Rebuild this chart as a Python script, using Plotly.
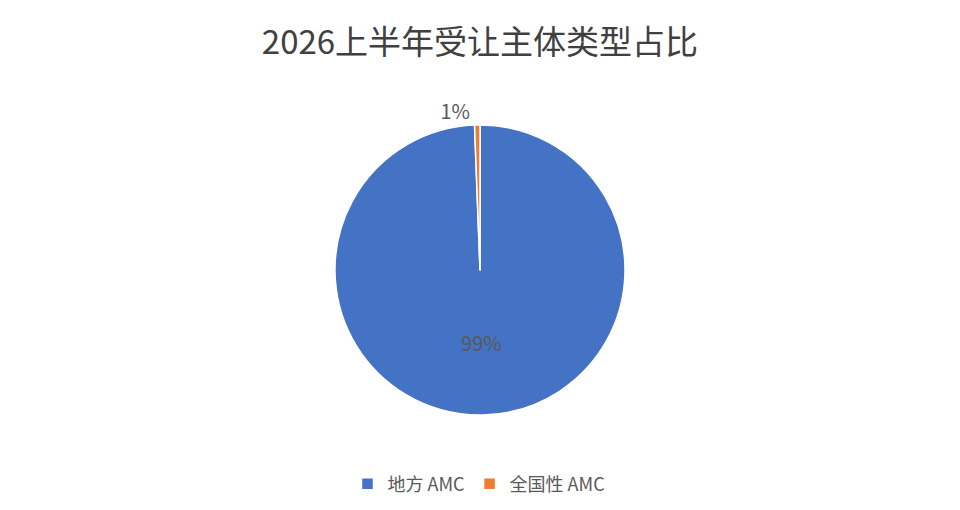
import plotly.graph_objects as go

# 数据
labels = ['地方 AMC', '全国性 AMC']
values = [99.4, 0.6]
colors = ['#4472C4', '#ED7D31']

W, H = 960, 510
OFF = 8  # 页面 body 的默认边距


def px_x(x):
    return (x - OFF) / W


def px_y(y):
    return 1 - (y - OFF) / H


fig = go.Figure()
fig.add_trace(go.Pie(
    labels=labels, values=values, sort=False,
    direction='clockwise', rotation=0,
    marker=dict(colors=colors, line=dict(color='white', width=1.5)),
    texttemplate='%{percent:.0%}',
    textposition=['inside', 'outside'],
    textfont=dict(size=20, color='#595959'),
    insidetextorientation='horizontal',
    hoverinfo='label+percent',
    domain=dict(x=[px_x(335), px_x(625)], y=[px_y(415), px_y(125)]),
))

fig.update_layout(
    width=W, height=H,
    margin=dict(l=0, r=0, t=0, b=0),
    paper_bgcolor='white',
    font=dict(family='Noto Sans CJK SC', color='#595959'),
    title=dict(text='2026上半年受让主体类型占比', x=px_x(480), xanchor='center',
               y=px_y(42), yanchor='middle',
               font=dict(size=33, color='#404040')),
    legend=dict(orientation='h', x=px_x(479), xanchor='center', y=px_y(484), yanchor='middle',
                font=dict(size=18, color='#595959'), itemwidth=30),
)

fig.write_html("out.html")
